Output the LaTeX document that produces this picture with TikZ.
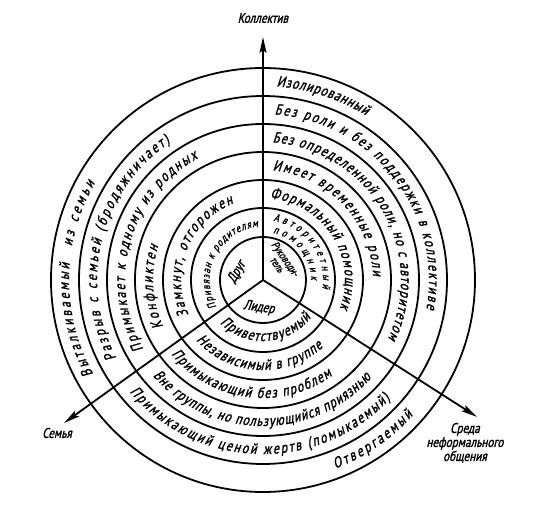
\documentclass[tikz,border=0pt]{standalone}
\usepackage{fontspec}
\setmainfont{PT Sans}
\newfontfamily\handfont{PT Sans}[FakeStretch=0.8, FakeSlant=0.22, FakeBold=1.5]
\usetikzlibrary{decorations.text,arrows.meta}
\begin{document}
\handfont\fontsize{15}{16}\selectfont
\begin{tikzpicture}[x=1pt, y=1pt, >={Stealth[length=16pt, width=7pt, inset=3pt]},
		font=\handfont\fontsize{14}{15}\selectfont,
		ring/.style={line width=1.8pt},
		ray/.style={->, line width=1.8pt},
		arctext/.style={decorate, decoration={text along path, text align={fit to path}}}]
		\useasboundingbox (-263,-244) rectangle (283,280);

		\foreach \r in {43,72,100,128,156,184,212}
			\draw[ring] (0,0) circle[radius=\r];

		\coordinate (c) at (0,0);
		\coordinate (top) at (90:243);
		\coordinate (sw) at (215.7:245);
		\coordinate (se) at (-32.6:254);
		\draw[ray] (c) -- (top);
		\draw[ray] (c) -- (sw);
		\draw[ray] (c) -- (se);

		\node (kollektiv) [above of=top, node distance=19pt] {Коллектив};
		\node (semya) [below of=sw, node distance=10pt, xshift=-7pt] {Семья};
		\node (sreda) [below of=se, node distance=26pt, xshift=-12pt, align=center, font=\handfont\fontsize{14}{14}\selectfont] {Среда\\неформального\\общения};

		% center
		\node (drug) at (163:27) [rotate=60] {Друг};
		\node (rukov) at (45:26) [rotate=-55, align=center, font=\handfont\fontsize{11}{10}\selectfont] {Руководи-\\тель};
		\node (lider) at (-98:28) [rotate=-8] {Лидер};

		% collective side
		\path[arctext, decoration={text={Изолированный}}] (86:194) arc[start angle=86, end angle=58, radius=194];
		\path[arctext, decoration={text={Без роли и без поддержки в коллективе}}] (86:166) arc[start angle=86, end angle=-10, radius=166];
		\path[arctext, decoration={text={Без определенной роли, но с авторитетом}}] (86:138) arc[start angle=86, end angle=-25, radius=138];
		\path[arctext, decoration={text={Имеет временные роли}}] (85:110) arc[start angle=85, end angle=2, radius=110];
		\path[arctext, decoration={text={Формальный помощник}}] (85:82) arc[start angle=85, end angle=-20, radius=82];
		\path[arctext, decoration={text={|\fontsize{11}{12}\selectfont|Авторитетный}}] (80:60) arc[start angle=80, end angle=-8, radius=60];
		\path[arctext, decoration={text={|\fontsize{11}{12}\selectfont|помощник}}] (78:48) arc[start angle=78, end angle=0, radius=48];

		% family side
		\path[arctext, decoration={text={Выталкиваемый}}] (209:194) arc[start angle=209, end angle=175, radius=194];
		\path[arctext, decoration={text={из семьи}}] (170:194) arc[start angle=170, end angle=150, radius=194];
		\path[arctext, decoration={text={Разрыв с семьей (бродяжничает)}}] (208:166) arc[start angle=208, end angle=124, radius=166];
		\path[arctext, decoration={text={Примыкает к одному из родных}}] (210:138) arc[start angle=210, end angle=118, radius=138];
		\path[arctext, decoration={text={Конфликтен}}] (205:110) arc[start angle=205, end angle=162, radius=110];
		\path[arctext, decoration={text={Замкнут, отгорожен}}] (205:82) arc[start angle=205, end angle=111, radius=82];
		\path[arctext, decoration={text={|\fontsize{11}{12}\selectfont|Привязан к родителям}}] (210:53.5) arc[start angle=210, end angle=95, radius=53.5];

		% informal side
		\path[arctext, decoration={text={Приветствуемый}}] (225:61) arc[start angle=225, end angle=322, radius=61];
		\path[arctext, decoration={text={Независимый в группе}}] (222:90) arc[start angle=222, end angle=312, radius=90];
		\path[arctext, decoration={text={Примыкающий без проблем}}] (219:118) arc[start angle=219, end angle=306, radius=118];
		\path[arctext, decoration={text={Вне группы, но пользующийся приязнью}}] (221:146) arc[start angle=221, end angle=318, radius=146];
		\path[arctext, decoration={text={Примыкающий ценой жертв (помыкаемый)}}] (220:174) arc[start angle=220, end angle=317, radius=174];
		\path[arctext, decoration={text={Отвергаемый}}] (291:202) arc[start angle=291, end angle=318, radius=202];
	\end{tikzpicture}
\end{document}
